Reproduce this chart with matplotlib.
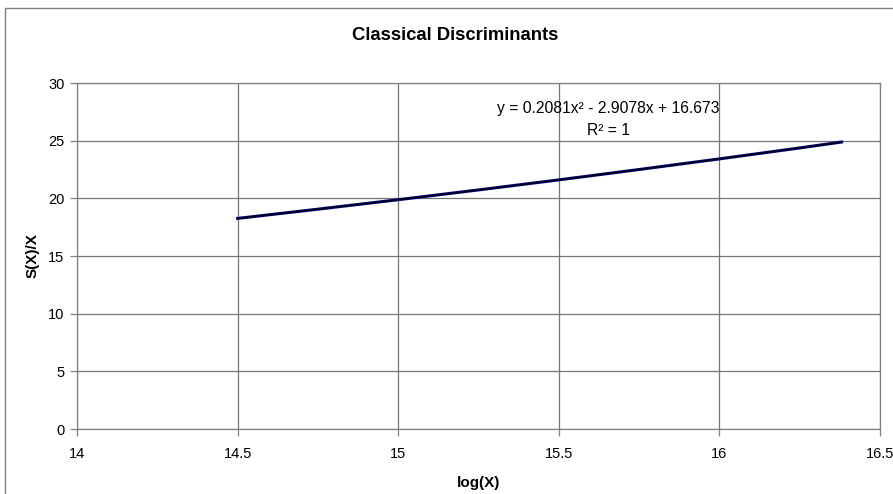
import numpy as np
import matplotlib.pyplot as plt
from matplotlib.patches import Rectangle

plt.rcParams['font.family'] = ['Liberation Sans', 'DejaVu Sans']

# values
log_x = [14.5, 14.75, 15.0, 15.25, 15.5, 15.75, 16.0, 16.25, 16.38]
s_over_x = [18.26, 19.06, 19.88, 20.73, 21.60, 22.50, 23.42, 24.37, 24.88]

x_ticks = [14, 14.5, 15, 15.5, 16, 16.5]
y_ticks = [0, 5, 10, 15, 20, 25, 30]

title = "Classical Discriminants"
eq_text = "y = 0.2081x\u00b2 - 2.9078x + 16.673"
r2_text = "R\u00b2 = 1"

fig = plt.figure(figsize=(8.93, 4.94), dpi=100)

# outer chart frame (cropped at right and bottom)
fig.patches.append(Rectangle((5 / 893, -0.1), 1.2, 1.1 - 8 / 494,
                             transform=fig.transFigure, fill=False,
                             edgecolor='#808080', linewidth=1.0))

ax = fig.add_axes([77 / 893, 1 - 429 / 494, 803 / 893, 346 / 494])

ax.plot(log_x, s_over_x, color='#000080', linewidth=2.2, zorder=3)

# quadratic trendline
coef = np.polyfit(log_x, s_over_x, 2)
xx = np.linspace(min(log_x), max(log_x), 100)
ax.plot(xx, np.polyval(coef, xx), color='black', linewidth=0.9, zorder=4)

ax.set_xlim(14, 16.5)
ax.set_ylim(0, 30)
ax.set_xticks(x_ticks)
ax.set_xticklabels([('%g' % t) for t in x_ticks])
ax.set_yticks(y_ticks)

ax.grid(True, color='#767676', linewidth=0.9)
ax.set_axisbelow(True)
for s in ax.spines.values():
    s.set_color('#808080')
    s.set_linewidth(0.9)

ax.tick_params(axis='both', direction='out', length=5, width=0.9,
               color='#808080', labelsize=10.5, labelcolor='black')
ax.tick_params(axis='x', pad=8)
ax.tick_params(axis='y', pad=4)

ax.set_xlabel("log(X)", fontsize=11, fontweight='bold', labelpad=11)
ax.set_ylabel("S(X)/X", fontsize=11, fontweight='bold', labelpad=6)

fig.text(455 / 893, 1 - 35 / 494, title, ha='center', va='center',
         fontsize=13.3, fontweight='bold')

ax.text(15.655, 27.8, eq_text, ha='center', va='center', fontsize=11.3)
ax.text(15.655, 25.9, r2_text, ha='center', va='center', fontsize=11.3)

fig.savefig('out.png', dpi=100)
